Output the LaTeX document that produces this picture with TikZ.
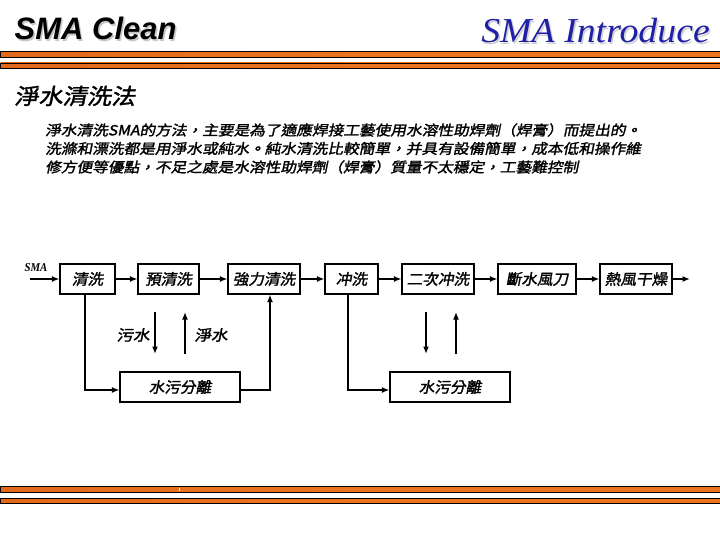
\documentclass[tikz,border=0pt]{standalone}
\usepackage{fontspec}
\usetikzlibrary{arrows.meta}
\newfontfamily\cjk[FakeSlant=0.18,FakeBold=1.6]{Noto Sans CJK TC}
\newfontfamily\titlesans{Liberation Sans}
\newfontfamily\titleserif{Liberation Serif}
\newcommand\xwide[1]{\scalebox{1.1}[1]{#1}}
\newcommand\bwide[1]{\scalebox{1.04}[1]{#1}}
\newcommand\pwide[1]{\scalebox{1.12}[1]{#1}}
\definecolor{barA}{HTML}{B04A10}
\definecolor{barB}{HTML}{D86018}
\definecolor{barC}{HTML}{EC7420}
\definecolor{barD}{HTML}{6A2E08}
\definecolor{introblue}{HTML}{1F1FA8}
\pgfdeclarehorizontalshading{barshade}{100bp}{color(0bp)=(barA); color(5bp)=(barB); color(50bp)=(barC); color(92bp)=(barC); color(100bp)=(barD)}
\tikzset{
  box/.style={draw, line width=1.1pt, minimum height=30pt, inner sep=0pt,
    font=\cjk\fontsize{15}{15}\selectfont},
  flow/.style={line width=1.8pt, -{Latex[length=7.5pt,width=6pt]}},
  bar/.style={shading=barshade, draw=black, line width=0.9pt},
  para/.style={anchor=west, inner sep=0pt, font=\cjk\fontsize{14}{14}\selectfont},
  lbl/.style={inner sep=0pt, font=\cjk\fontsize{15}{15}\selectfont},
}
\begin{document}
\begin{tikzpicture}[x=1pt,y=-1pt]
\useasboundingbox (0,0) rectangle (720,540);
\fill[white] (0,0) rectangle (720,540);

% titles
\node[anchor=base west, inner sep=0pt, text=black!22, font=\titlesans\bfseries\itshape\fontsize{31}{31}\selectfont] at (16,41.5) {SMA Clean};
\node[anchor=base west, inner sep=0pt, font=\titlesans\bfseries\itshape\fontsize{31}{31}\selectfont] (t1) at (14.5,40) {SMA Clean};
\node[anchor=base east, inner sep=0pt, text=black!18, font=\titleserif\itshape\fontsize{35}{35}\selectfont] at (711.5,44.5) {\scalebox{1.08}[1]{SMA Introduce}};
\node[anchor=base east, inner sep=0pt, text=introblue, font=\titleserif\itshape\fontsize{35}{35}\selectfont] (t2) at (710,43) {\scalebox{1.08}[1]{SMA Introduce}};

% bars
\shadedraw[bar] (0.5,51.5) rectangle (721,57);
\shadedraw[bar] (0.5,63) rectangle (721,68.5);
\shadedraw[bar] (0.5,486.5) rectangle (721,492);
\shadedraw[bar] (0.5,498) rectangle (721,503.5);
\draw[yellow!15, line width=0.8pt] (179,487.5) -- (179,491);

% heading
\node[anchor=west, inner sep=0pt, font=\cjk\fontsize{22}{22}\selectfont] (h) at (14,96) {\xwide{淨水清洗法}};

% paragraph
\node[para] (p1) at (45,130) {\pwide{淨水清洗SMA的方法，主要是為了適應焊接工藝使用水溶性助焊劑（焊膏）而提出的。}};
\node[para] (p2) at (45,148.5) {\pwide{洗滌和漂洗都是用淨水或純水。純水清洗比較簡單，并具有設備簡單，成本低和操作維}};
\node[para] (p3) at (45,167) {\pwide{修方便等優點，不足之處是水溶性助焊劑（焊膏）質量不太穩定，工藝難控制}};

% diagram
\node[inner sep=0pt, font=\titleserif\bfseries\itshape\fontsize{12}{12}\selectfont] (sma) at (36,268) {\scalebox{0.9}[1]{SMA}};
\coordinate (in) at (30,279);
\node[box, minimum width=55pt] (b1) at (87.5,279) {\bwide{清洗}};
\node[box, minimum width=61pt] (b2) at (168.5,279) {\bwide{預清洗}};
\node[box, minimum width=72pt] (b3) at (264,279) {\bwide{強力清洗}};
\node[box, minimum width=53pt] (b4) at (351.5,279) {\bwide{冲洗}};
\node[box, minimum width=72pt] (b5) at (438,279) {\bwide{二次冲洗}};
\node[box, minimum width=78pt] (b6) at (537,279) {\bwide{斷水風刀}};
\node[box, minimum width=72pt] (b7) at (636,279) {\bwide{熱風干燥}};
\coordinate (out) at (690,279);
\node[box, minimum width=120pt] (s1) at (180,387) {\bwide{水污分離}};
\node[box, minimum width=120pt] (s2) at (450,387) {\bwide{水污分離}};

\draw[flow] (in) -- (b1);
\draw[flow] (b1) -- (b2);
\draw[flow] (b2) -- (b3);
\draw[flow] (b3) -- (b4);
\draw[flow] (b4) -- (b5);
\draw[flow] (b5) -- (b6);
\draw[flow] (b6) -- (b7);
\draw[flow] (b7) -- (out);

\draw[flow] ([xshift=-2.5pt]b1.south) |- ([yshift=-3pt]s1.west);
\draw[flow] ([yshift=-3pt]s1.east) -| ([xshift=6pt]b3.south);
\draw[flow] ([xshift=-3.5pt]b4.south) |- ([yshift=-3pt]s2.west);

\coordinate (d1a) at (155,312); \coordinate (d1b) at (155,354);
\coordinate (u1a) at (185,354); \coordinate (u1b) at (185,312);
\coordinate (d2a) at (426,312); \coordinate (d2b) at (426,354);
\coordinate (u2a) at (456,354); \coordinate (u2b) at (456,312);
\draw[flow] (d1a) -- (d1b);
\draw[flow] (u1a) -- (u1b);
\draw[flow] (d2a) -- (d2b);
\draw[flow] (u2a) -- (u2b);
\node[lbl] (w1) at (133,335) {\xwide{污水}};
\node[lbl] (w2) at (211,335) {\xwide{淨水}};
\end{tikzpicture}
\end{document}
